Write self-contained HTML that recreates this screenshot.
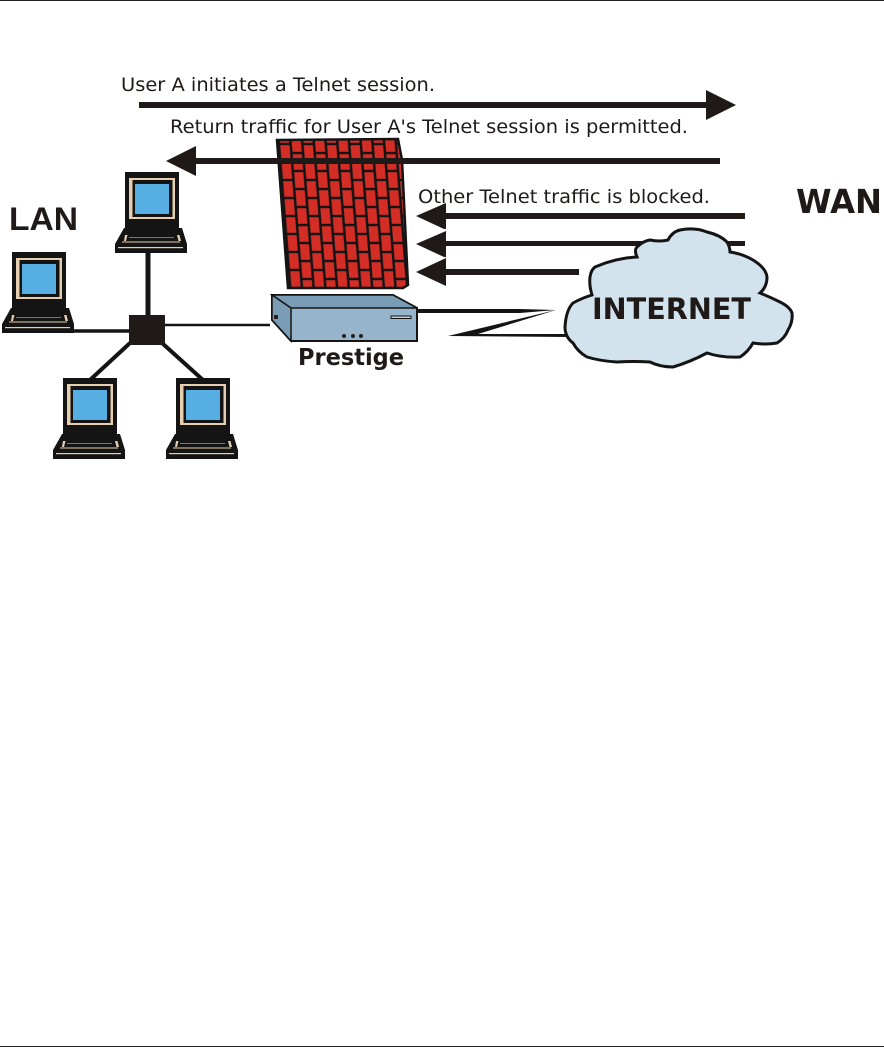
<!DOCTYPE html>
<html><head><meta charset="utf-8"><style>
html,body{margin:0;padding:0;background:#fff}
svg{display:block}
text{font-family:"DejaVu Sans",sans-serif;fill:#1f1a17}
</style></head><body>
<svg width="884" height="1047" viewBox="0 0 884 1047" xmlns="http://www.w3.org/2000/svg">
<defs>
<pattern id="brick" width="23.4" height="36" patternUnits="userSpaceOnUse" patternTransform="translate(279 144) skewX(4.5)">
<rect width="23.4" height="36" fill="#141414"/>
<rect x="1.2" y="1.2" width="9.2" height="15.6" fill="#d32d26"/>
<rect x="1.2" y="19.2" width="9.2" height="15.6" fill="#d32d26"/>
<rect x="12.9" y="-7.8" width="9.2" height="15.6" fill="#d32d26"/>
<rect x="12.9" y="10.2" width="9.2" height="15.6" fill="#d32d26"/>
<rect x="12.9" y="28.2" width="9.2" height="15.6" fill="#d32d26"/>
</pattern>
<g id="pc">
<rect x="0" y="0" width="54" height="56" fill="#141414"/>
<rect x="4" y="6" width="46" height="41" fill="#e6ceb0"/>
<rect x="7.5" y="8" width="40" height="37" fill="#141414"/>
<rect x="10" y="12" width="34" height="30" fill="#56aee2"/>
<polygon points="-1,56 57,56 62,72 62,81 -10,81 -10,72" fill="#141414"/>
<polygon points="0,63 2.5,63 1,69 -1,69" fill="#e6ceb0"/>
<polygon points="52,63 54.5,63 56,69 53.5,69" fill="#e6ceb0"/>
<rect x="-3" y="69.5" width="58" height="1" fill="#e6ceb0"/>
<rect x="4" y="65" width="45" height="1" fill="#a9683a"/>
<rect x="-7" y="75" width="65" height="1.2" fill="#e6ceb0"/>
</g>
</defs>

<rect x="0" y="0" width="884" height="1" fill="#222"/>
<rect x="0" y="1046" width="884" height="1" fill="#222"/>

<!-- network lines -->
<g stroke="#141414" fill="none">
<line x1="148" y1="250" x2="148" y2="320" stroke-width="5"/>
<line x1="70" y1="331" x2="132" y2="331" stroke-width="3.5"/>
<line x1="164" y1="325" x2="270" y2="325" stroke-width="2.5"/>
<line x1="130" y1="343" x2="90" y2="380" stroke-width="4"/>
<line x1="162" y1="343" x2="203" y2="380" stroke-width="4"/>
</g>
<rect x="129" y="315" width="36" height="30" fill="#1f1a17"/>

<use href="#pc" x="125" y="172"/>
<use href="#pc" x="12" y="252"/>
<use href="#pc" x="63" y="378"/>
<use href="#pc" x="176" y="378"/>

<!-- firewall -->
<polygon points="277,140 398,139 402,160 408,285 403,288 288,288" fill="url(#brick)" stroke="#141414" stroke-width="2.5"/>

<!-- arrows -->
<g fill="#1f1a17">
<rect x="139" y="102" width="570" height="6"/>
<polygon points="706,90 736,105 706,120"/>
<rect x="190" y="158" width="530" height="6"/>
<polygon points="196,146 166,161 196,176"/>
<rect x="440" y="213" width="305" height="6"/>
<polygon points="446,203 416,216 444,229 446,229"/>
<rect x="440" y="241" width="305" height="5"/>
<polygon points="446,231 416,244 444,257 446,257"/>
<rect x="440" y="269" width="139" height="6"/>
<polygon points="446,258 416,272 446,286"/>
</g>

<!-- Prestige device -->
<polygon points="272,295 393,295 417,308 417,341 291,341 272,320" fill="#96b4cc" stroke="#141414" stroke-width="2"/>
<polygon points="272,295 393,295 417,308 291,308" fill="#7a9db5" stroke="#141414" stroke-width="1.5"/>
<polygon points="272,295 291,308 291,341 272,320" fill="#7a9db5" stroke="#141414" stroke-width="1.5"/>
<rect x="391" y="316" width="20" height="2.5" fill="#c4d4df" stroke="#141414" stroke-width="1"/>
<rect x="274" y="315" width="4" height="4" fill="#222"/>
<circle cx="344" cy="336" r="2" fill="#222"/><circle cx="353" cy="336" r="2" fill="#222"/><circle cx="361" cy="336" r="2" fill="#222"/>

<!-- lightning link -->
<polygon points="417,309 520,309 556,310 520,313 417,313" fill="#141414"/>
<polygon points="556,310 448,336 568,337 568,334 478,334" fill="#141414"/>

<!-- cloud -->
<path d="M565,327 Q566,310 573,303 Q582,298 592,295 Q589,285 590,277 Q591,270 595,267 Q616,258 637,257 Q634,250 637,247 Q643,241 650,240 Q660,242 668,240 Q672,232 680,230 Q695,227 707,232 Q720,235 727,242 Q730,247 730,252 Q743,254 753,260 Q766,268 767,277 Q767,287 760,293 Q770,297 780,302 Q790,307 792,313 Q793,322 788,330 Q785,338 777,343 Q765,345 753,343 Q748,352 740,357 Q722,358 707,353 Q690,362 673,367 Q660,367 650,362 Q633,361 617,362 Q600,361 587,357 Q578,352 573,343 Q565,337 565,327 Z" fill="#d2e3ee" stroke="#141414" stroke-width="3"/>

<!-- text -->
<text x="121" y="91" font-size="19" textLength="314" lengthAdjust="spacingAndGlyphs">User A initiates a Telnet session.</text>
<text x="170" y="133" font-size="19" textLength="518" lengthAdjust="spacingAndGlyphs">Return traffic for User A's Telnet session is permitted.</text>
<text x="418" y="203" font-size="19" textLength="292" lengthAdjust="spacingAndGlyphs">Other Telnet traffic is blocked.</text>
<text x="9" y="230" font-size="32" font-weight="bold" textLength="69" lengthAdjust="spacingAndGlyphs" style="font-family:'Liberation Sans',sans-serif">LAN</text>
<text x="796" y="213" font-size="33" font-weight="bold" textLength="86" lengthAdjust="spacingAndGlyphs">WAN</text>
<text x="298" y="365" font-size="23" font-weight="bold" textLength="106" lengthAdjust="spacingAndGlyphs">Prestige</text>
<text x="592" y="319" font-size="29" font-weight="bold" textLength="159" lengthAdjust="spacingAndGlyphs">INTERNET</text>
</svg>
</body></html>
